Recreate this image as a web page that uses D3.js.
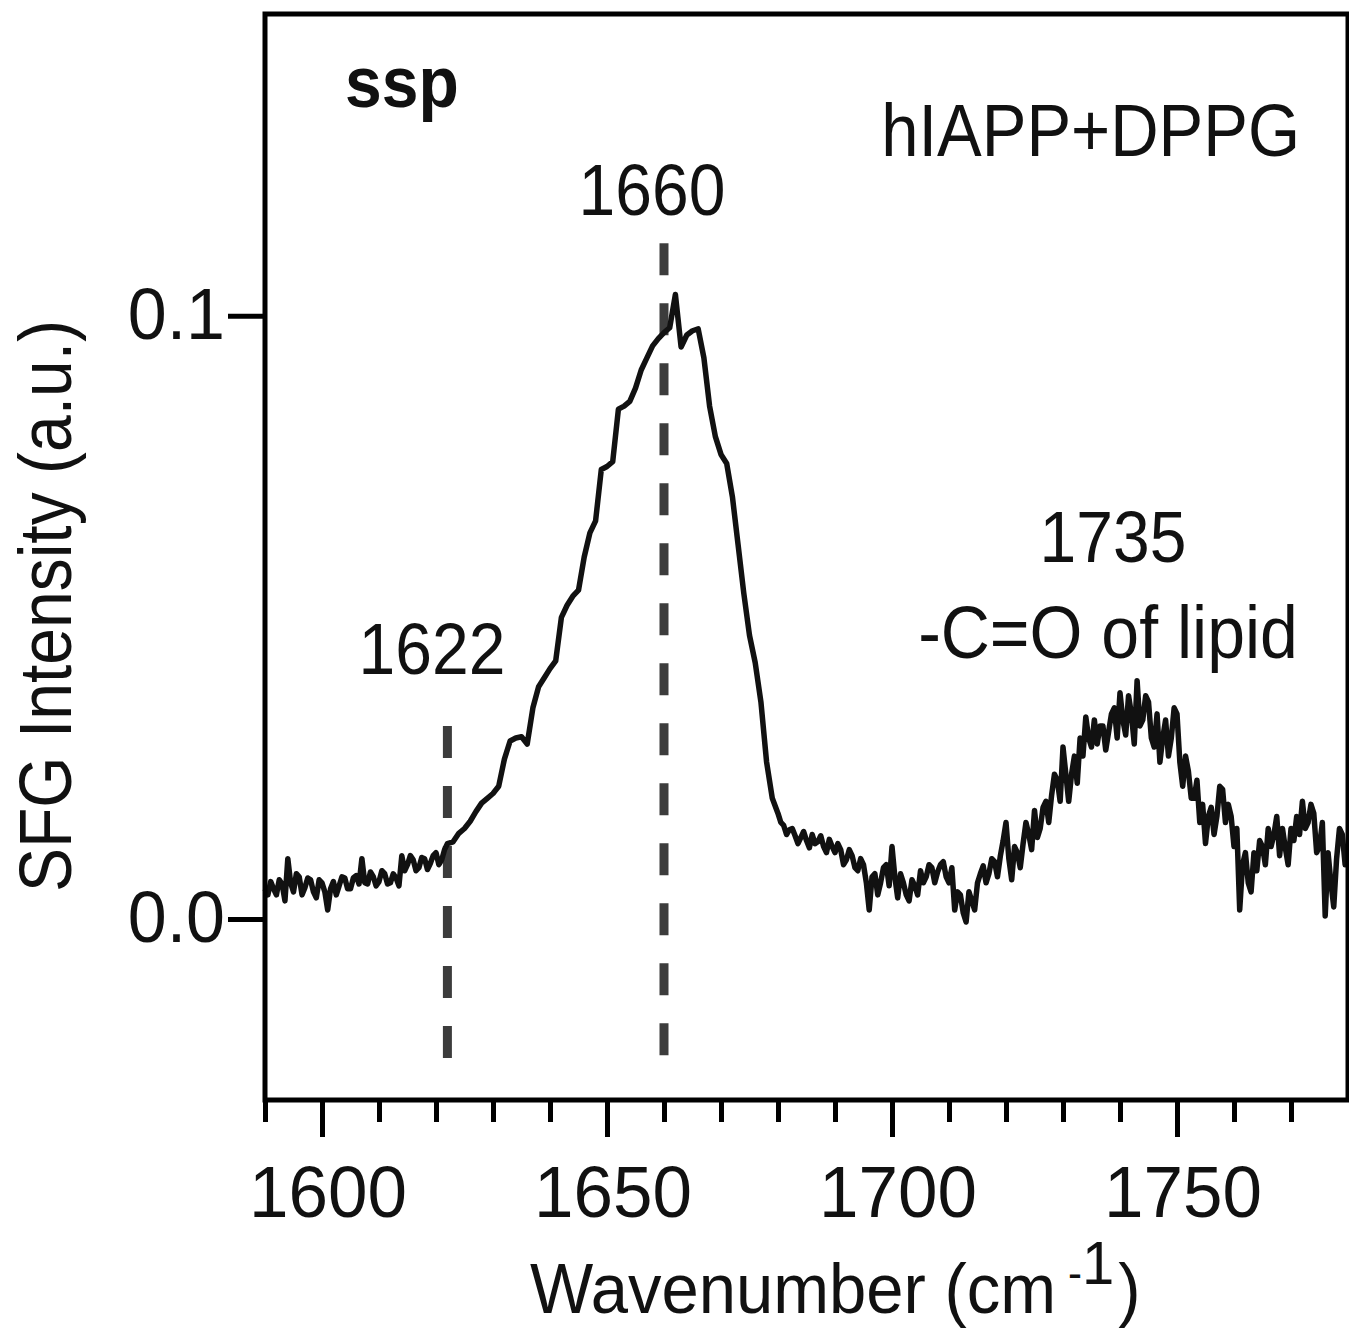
<!DOCTYPE html>
<html>
<head>
<meta charset="utf-8">
<script src="https://cdn.jsdelivr.net/npm/d3@7"></script>
<style>
  body { margin: 0; background: #fff; }
  svg { display: block; font-family: "Liberation Sans", Arial, sans-serif; }
</style>
</head>
<body>
<div id="chart"></div>
<script>
// SFG spectrum at 1 cm-1 steps
const wnStart = 1590;
const intensity = [
  0.0050, 0.0062, 0.0040, 0.0058, 0.0100, 0.0045, 0.0070, 0.0052, 0.0065, 0.0035, // 1590
  0.0060, 0.0015, 0.0062, 0.0055, 0.0068, 0.0050, 0.0072, 0.0100, 0.0058, 0.0070, // 1600
  0.0062, 0.0075, 0.0060, 0.0068, 0.0105, 0.0090, 0.0098, 0.0085, 0.0100, 0.0092, // 1610
  0.0110, 0.0098, 0.0125, 0.0128, 0.0142, 0.0150, 0.0162, 0.0178, 0.0192, 0.0200, // 1620
  0.0208, 0.0220, 0.0265, 0.0295, 0.0300, 0.0302, 0.0290, 0.0350, 0.0385, 0.0400, // 1630
  0.0415, 0.0428, 0.0500, 0.0520, 0.0535, 0.0545, 0.0600, 0.0640, 0.0660, 0.0745, // 1640
  0.0750, 0.0758, 0.0845, 0.0850, 0.0858, 0.0880, 0.0910, 0.0930, 0.0950, 0.0962, // 1650
  0.0972, 0.0980, 0.1035, 0.0948, 0.0968, 0.0975, 0.0978, 0.0930, 0.0850, 0.0800, // 1660
  0.0770, 0.0755, 0.0700, 0.0620, 0.0540, 0.0470, 0.0425, 0.0360, 0.0260, 0.0200, // 1670
  0.0175, 0.0155, 0.0148, 0.0138, 0.0135, 0.0130, 0.0140, 0.0128, 0.0120, 0.0132, // 1680
  0.0110, 0.0115, 0.0098, 0.0105, 0.0080, 0.0090, 0.0015, 0.0075, 0.0060, 0.0090, // 1690
  0.0120, 0.0035, 0.0060, 0.0030, 0.0055, 0.0080, 0.0070, 0.0085, 0.0078, 0.0095, // 1700
  0.0060, 0.0015, 0.0040, -0.0005, 0.0030, 0.0060, 0.0088, 0.0075, 0.0095, 0.0104, // 1710
  0.0160, 0.0065, 0.0110, 0.0125, 0.0140, 0.0180, 0.0150, 0.0195, 0.0205, 0.0230, // 1720
  0.0285, 0.0195, 0.0270, 0.0300, 0.0335, 0.0285, 0.0290, 0.0320, 0.0310, 0.0350, // 1730
  0.0375, 0.0305, 0.0340, 0.0395, 0.0330, 0.0360, 0.0285, 0.0260, 0.0330, 0.0300, // 1740
  0.0340, 0.0220, 0.0245, 0.0200, 0.0160, 0.0125, 0.0185, 0.0170, 0.0215, 0.0190, // 1750
  0.0120, 0.0015, 0.0110, 0.0045, 0.0080, 0.0120, 0.0150, 0.0140, 0.0105, 0.0118, // 1760
  0.0150, 0.0170, 0.0195, 0.0160, 0.0175, 0.0120, 0.0005, 0.0060, 0.0100, 0.0140, // 1770
  0.0120                                                                          // 1780
];

// extra half-step readings where the trace is noisy (x.5 cm-1)
const lowMidStart = 1590.5;
const lowMid = [
  0.0040, 0.0050, 0.0065, 0.0030, 0.0060, 0.0075, 0.0040, 0.0068, 0.0045, 0.0065, // 1590.5
  0.0045, 0.0050, 0.0040, 0.0070, 0.0050, 0.0068, 0.0058, 0.0060, 0.0078, 0.0055, // 1600.5
  0.0080, 0.0058, 0.0075, 0.0055, 0.0080, 0.0105, 0.0080, 0.0102, 0.0082, 0.0105, // 1610.5
  0.0090, 0.0115                                                                  // 1620.5
];
const highMidStart = 1680.5;
const highMid = [
  0.0160, 0.0140, 0.0150, 0.0125, 0.0145, 0.0118, 0.0125, 0.0138, 0.0110, 0.0120, // 1680.5
  0.0125, 0.0090, 0.0115, 0.0085, 0.0100, 0.0060, 0.0070, 0.0040, 0.0085, 0.0055, // 1690.5
  0.0070, 0.0075, 0.0040, 0.0065, 0.0040, 0.0060, 0.0090, 0.0060, 0.0090, 0.0070, // 1700.5
  0.0085, 0.0045, 0.0010, 0.0045, 0.0015, 0.0075, 0.0060, 0.0100, 0.0070, 0.0130, // 1710.5
  0.0100, 0.0120, 0.0085, 0.0160, 0.0115, 0.0135, 0.0185, 0.0160, 0.0240, 0.0195, // 1720.5
  0.0240, 0.0240, 0.0225, 0.0270, 0.0300, 0.0330, 0.0320, 0.0280, 0.0340, 0.0300, // 1730.5
  0.0330, 0.0370, 0.0290, 0.0320, 0.0370, 0.0300, 0.0340, 0.0300, 0.0270, 0.0350, // 1740.5
  0.0260, 0.0270, 0.0200, 0.0230, 0.0190, 0.0170, 0.0140, 0.0220, 0.0160, 0.0170, // 1750.5
  0.0150, 0.0090, 0.0060, 0.0110, 0.0130, 0.0090, 0.0120, 0.0170, 0.0150, 0.0090, // 1760.5
  0.0130, 0.0140, 0.0150, 0.0190, 0.0110, 0.0160, 0.0110, 0.0020, 0.0150, 0.0090  // 1770.5
];

const xMajor = [1600, 1650, 1700, 1750];
const xMinor = [1590, 1610, 1620, 1630, 1640, 1660, 1670, 1680, 1690, 1710, 1720, 1730, 1740, 1760, 1770];
const yTicks = [0.0, 0.1];

// dashed peak markers
const markerWn = [1622, 1660];
const markerTop = [0.032, 0.112];
const markerBottom = -0.0235;

const data = intensity.map((v, i) => ({ wn: wnStart + i, v: v }))
  .concat(lowMid.map((v, i) => ({ wn: lowMidStart + i, v: v })))
  .concat(highMid.map((v, i) => ({ wn: highMidStart + i, v: v })))
  .sort((a, b) => a.wn - b.wn);

const W = 1349, H = 1332;
const svg = d3.select("#chart").append("svg")
  .attr("width", W)
  .attr("height", H);

const x = d3.scaleLinear().domain([1590, 1780]).range([265, 1348]);
const y = d3.scaleLinear().domain([-0.03, 0.15]).range([1100, 14]);

// text helper: glyphs in the figure are a bit taller than Arial
function label(px, py, txt, size, opts = {}) {
  const g = svg.append("g")
    .attr("transform", `translate(${px},${py}) rotate(${opts.rotate || 0}) scale(1,${opts.stretch || 1.1})`);
  const t = g.append("text")
    .attr("text-anchor", opts.anchor || "middle")
    .attr("font-size", size)
    .attr("font-weight", opts.bold ? "bold" : "normal")
    .attr("fill", "#111")
    .text(txt);
  return t;
}

// dashed markers
svg.selectAll("line.marker")
  .data(markerWn)
  .enter()
  .append("line")
  .attr("class", "marker")
  .attr("x1", d => x(d))
  .attr("x2", d => x(d))
  .attr("y1", (d, i) => y(markerTop[i]))
  .attr("y2", y(markerBottom))
  .attr("stroke", "#3c3c3c")
  .attr("stroke-width", 9)
  .attr("stroke-dasharray", "32,28");

// spectrum
const line = d3.line()
  .x(d => x(d.wn))
  .y(d => y(d.v));

svg.append("path")
  .datum(data)
  .attr("d", line)
  .attr("fill", "none")
  .attr("stroke", "#111")
  .attr("stroke-width", 5.5)
  .attr("stroke-linejoin", "round");

// frame
svg.append("rect")
  .attr("x", x(1590))
  .attr("y", y(0.15))
  .attr("width", x(1780) - x(1590))
  .attr("height", y(-0.03) - y(0.15))
  .attr("fill", "none")
  .attr("stroke", "#000")
  .attr("stroke-width", 5);

// x axis: major + minor ticks
const xAxisMajor = svg.append("g")
  .attr("transform", `translate(0,${y(-0.03)})`)
  .call(d3.axisBottom(x).tickValues(xMajor).tickSize(37).tickSizeOuter(0).tickFormat(""));
const xAxisMinor = svg.append("g")
  .attr("transform", `translate(0,${y(-0.03)})`)
  .call(d3.axisBottom(x).tickValues(xMinor).tickSize(22).tickSizeOuter(0).tickFormat(""));
[xAxisMajor, xAxisMinor].forEach(g => {
  g.select(".domain").remove();
  g.selectAll(".tick line").attr("stroke", "#000").attr("stroke-width", 5);
});

xMajor.forEach(v => label(x(v) + 6, 1217, String(v), 71, { stretch: 1.03 }));

// y axis
const yAxis = svg.append("g")
  .attr("transform", `translate(${x(1590)},0)`)
  .call(d3.axisLeft(y).tickValues(yTicks).tickSize(37).tickFormat(""));
yAxis.select(".domain").remove();
yAxis.selectAll(".tick line").attr("stroke", "#000").attr("stroke-width", 5);

yTicks.forEach(v => label(225, y(v) + 23, d3.format(".1f")(v), 70, { anchor: "end", stretch: 1.03 }));

// axis titles
label(71, 606, "SFG Intensity (a.u.)", 66, { rotate: -90, stretch: 1.12 });

const xt = label(530, 1313, "Wavenumber (cm", 67, { anchor: "start", stretch: 1.04 });
xt.append("tspan").attr("font-size", 42).attr("dx", 12).attr("dy", -24).text("-");
xt.append("tspan").attr("font-size", 58).attr("dy", -4).text("1");
xt.append("tspan").attr("dx", 4).attr("dy", 28).text(")");

// annotations
label(345, 107, "ssp", 66, { anchor: "start", bold: true });
label(1300, 156, "hIAPP+DPPG", 67, { anchor: "end" });
label(652, 215, "1660", 66);
label(432, 674, "1622", 66);
label(1113, 562, "1735", 66);
label(1108, 658, "-C=O of lipid", 68);
</script>
</body>
</html>
